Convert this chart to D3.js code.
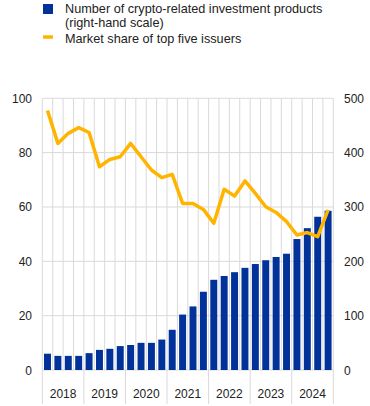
<!DOCTYPE html>
<html><head><meta charset="utf-8">
<script src="https://cdn.jsdelivr.net/npm/d3@7"></script>
<style>body{margin:0;background:#fff}svg{display:block;font-family:"Liberation Sans",Arial,sans-serif}</style>
</head><body><svg id="c" width="370" height="406"></svg>
<script>
const years = ["2018","2019","2020","2021","2022","2023","2024"];
const quarters = years.flatMap(y => ["Q1","Q2","Q3","Q4"].map(q => y + q));
const products = [30,26,26,26,31,37,39,44,46,50,50,56,74,102,117,144,166,173,180,188,195,202,208,214,241,261,282,293];
const share = [95.5,83.4,87.1,89.2,87.4,74.8,77.5,78.5,83.4,78.5,73.6,70.8,72,61.3,61.3,59.1,54,66.5,64,69.6,65,60.1,58,54.6,49.7,50.6,49.1,58.9];
const leftTicks = [0,20,40,60,80,100];
const rightTicks = [0,100,200,300,400,500];

const svg = d3.select("#c");
const m = {l:42.3, r:333.3, t:98.3, b:370};
const x = d3.scaleBand().domain(quarters).range([m.l, m.r]).paddingInner(0.33).paddingOuter(0.165);
const xb = d3.scaleBand().domain(quarters).range([m.l, m.r]);
const yL = d3.scaleLinear().domain([0,100]).range([m.b, m.t]);
const yR = d3.scaleLinear().domain([0,500]).range([m.b, m.t]);
const grid = "#d9d9d9";

// horizontal grid
svg.append("g").selectAll("line").data(leftTicks).join("line")
  .attr("x1", m.l).attr("x2", m.r).attr("y1", d => yL(d)).attr("y2", d => yL(d))
  .attr("stroke", grid).attr("stroke-width", 1);
// vertical grid at each quarter boundary
const bounds = quarters.map(q => xb(q)).concat([m.r]);
svg.append("g").selectAll("line").data(bounds).join("line")
  .attr("x1", d => d).attr("x2", d => d).attr("y1", m.t).attr("y2", m.b)
  .attr("stroke", grid).attr("stroke-width", 1);
// year ticks below axis
const yearBounds = years.map(y => xb(y + "Q1")).concat([m.r]);
svg.append("g").selectAll("line").data(yearBounds).join("line")
  .attr("x1", d => d).attr("x2", d => d).attr("y1", m.b).attr("y2", 404)
  .attr("stroke", grid).attr("stroke-width", 1);

// bars
svg.append("g").selectAll("rect").data(products).join("rect")
  .attr("x", (d,i) => x(quarters[i])).attr("width", x.bandwidth())
  .attr("y", d => yR(d)).attr("height", d => yR(0) - yR(d))
  .attr("fill", "#003299");

// line
const line = d3.line().x((d,i) => xb(quarters[i]) + xb.bandwidth()/2).y(d => yL(d));
svg.append("path").datum(share).attr("d", line)
  .attr("fill", "none").attr("stroke", "#ffb400").attr("stroke-width", 3.5)
  .attr("stroke-linejoin", "round");

// axes labels
const fs = 12;
svg.append("g").selectAll("text").data(leftTicks).join("text")
  .attr("x", 32).attr("y", d => yL(d) + 4.5).attr("text-anchor", "end")
  .attr("font-size", fs).attr("fill", "#222").text(d => d);
svg.append("g").selectAll("text").data(rightTicks).join("text")
  .attr("x", 344).attr("y", d => yR(d) + 4.5).attr("text-anchor", "start")
  .attr("font-size", fs).attr("fill", "#222").text(d => d);
svg.append("g").selectAll("text").data(years).join("text")
  .attr("x", d => xb(d + "Q1") + 2 * xb.bandwidth()).attr("y", 398).attr("text-anchor", "middle")
  .attr("font-size", fs).attr("fill", "#222").text(d => d);

// legend
svg.append("rect").attr("x", 43).attr("y", 4).attr("width", 10).attr("height", 10).attr("fill", "#003299");
svg.append("line").attr("x1", 43).attr("x2", 53).attr("y1", 37).attr("y2", 37)
  .attr("stroke", "#ffb400").attr("stroke-width", 3.5);
const leg = [["Number of crypto-related investment products", 13], ["(right-hand scale)", 27], ["Market share of top five issuers", 43]];
svg.append("g").selectAll("text").data(leg).join("text")
  .attr("x", 65).attr("y", d => d[1]).attr("font-size", 12.7).attr("fill", "#222").text(d => d[0]);
</script></body></html>
